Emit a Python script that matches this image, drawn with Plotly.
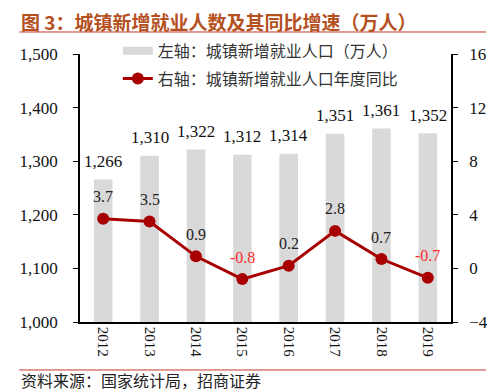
import plotly.graph_objects as go

years = ["2012", "2013", "2014", "2015", "2016", "2017", "2018", "2019"]
new_jobs = [1266, 1310, 1322, 1312, 1314, 1351, 1361, 1352]
yoy = [3.7, 3.5, 0.9, -0.8, 0.2, 2.8, 0.7, -0.7]
left_ticks = [1000, 1100, 1200, 1300, 1400, 1500]
right_ticks = [-4, 0, 4, 8, 12, 16]

SERIF = "Liberation Serif, Times New Roman, Noto Sans CJK SC, serif"
CJK = "Noto Sans CJK SC, sans-serif"
LINE_RED = "#A80000"
BAR_GRAY = "#D9D9D9"

fig = go.Figure()
fig.add_trace(go.Bar(
    x=years, y=new_jobs, name="左轴：城镇新增就业人口（万人）",
    marker=dict(color=BAR_GRAY, line=dict(width=0)),
    showlegend=False,
))
# legend swatch for the bars (wide gray band like the reference)
fig.add_trace(go.Scatter(
    x=years[:1], y=[None], name="左轴：城镇新增就业人口（万人）",
    mode="lines", line=dict(color=BAR_GRAY, width=8), legendgroup="a",
))
fig.add_trace(go.Scatter(
    x=years, y=yoy, name="右轴：城镇新增就业人口年度同比", yaxis="y2",
    mode="lines+markers", legendgroup="b",
    line=dict(color=LINE_RED, width=3),
    marker=dict(color=LINE_RED, size=12),
    cliponaxis=False,
))

annotations = []
for i, v in enumerate(new_jobs):
    annotations.append(dict(x=i, y=v, xref="x", yref="y", text=f"{v:,}", showarrow=False,
                            yanchor="middle", yshift=18,
                            font=dict(family=SERIF, size=17, color="#111111")))
for i, v in enumerate(yoy):
    annotations.append(dict(x=i, y=v, xref="x", yref="y2", text=f"{v}", showarrow=False,
                            yanchor="middle", yshift=22,
                            font=dict(family=SERIF, size=16,
                                      color="#FF2A2A" if v < 0 else "#222222")))
annotations += [
    dict(text="<b>图 3：城镇新增就业人数及其同比增速（万人）</b>", xref="paper", yref="paper",
         x=-0.1637, y=1.1231, xanchor="left", yanchor="middle", showarrow=False,
         font=dict(family=CJK, size=19, color="#B5511F")),
    dict(text="资料来源：国家统计局，招商证券", xref="paper", yref="paper",
         x=-0.1637, y=-0.2164, xanchor="left", yanchor="middle", showarrow=False,
         font=dict(family=CJK, size=16, color="#222222")),
]

fig.update_layout(
    width=492, height=384,
    margin=dict(l=64, r=37, t=46, b=70),
    paper_bgcolor="white", plot_bgcolor="white",
    bargap=0.6,
    showlegend=True,
    legend=dict(x=0.102, y=1.075, xanchor="left", yanchor="top", traceorder="grouped",
                tracegroupgap=4,
                bgcolor="rgba(0,0,0,0)", font=dict(family=CJK, size=16, color="#333333")),
    xaxis=dict(type="category", categoryorder="array", categoryarray=years,
               range=[-0.5, len(years) - 0.5],
               tickangle=90, showline=True, linecolor="#000000", linewidth=1.5,
               ticks="", tickfont=dict(family=SERIF, size=15, color="#111111"), showgrid=False),
    yaxis=dict(range=[1000, 1500], tickvals=left_ticks, tickformat=",", showline=True,
               linecolor="#000000", linewidth=1.5, ticks="outside", ticklen=5, tickcolor="#000000",
               ticklabelstandoff=12,
               tickfont=dict(family=SERIF, size=17, color="#111111"), showgrid=False, zeroline=False),
    yaxis2=dict(range=[-4, 16], tickvals=right_ticks, overlaying="y", side="right", showline=True,
                linecolor="#000000", linewidth=1.5, ticks="outside", ticklen=5, tickcolor="#000000",
                ticklabelstandoff=8,
                tickfont=dict(family=SERIF, size=17, color="#111111"), showgrid=False, zeroline=False),
    annotations=annotations,
    shapes=[
        dict(type="line", xref="paper", yref="paper", x0=-0.1637, x1=1.0946, y0=1.0821, y1=1.0821,
             line=dict(color="#C0392B", width=1)),
        dict(type="line", xref="paper", yref="paper", x0=-0.1637, x1=1.0946, y0=-0.179, y1=-0.179,
             line=dict(color="#C0392B", width=1)),
    ],
)

fig.write_html("out.html")
